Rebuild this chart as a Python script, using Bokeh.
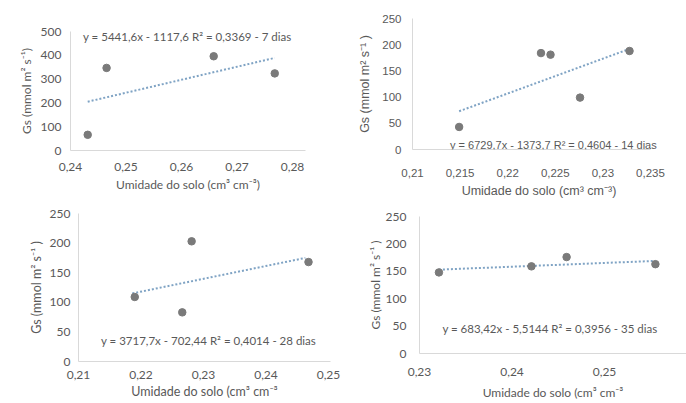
from bokeh.plotting import figure
from bokeh.layouts import column, row
from bokeh.models import FixedTicker, Range1d, Label, CustomJSTickFormatter
from bokeh.embed import file_html
from bokeh.resources import INLINE

# ---------------- data ----------------
# 7 dias
x7 = [0.2431, 0.2465, 0.2658, 0.2768]
y7 = [66, 347, 396, 324]
trend7_x = [0.2431, 0.2768]
trend7_y = [205, 389]
eq7 = "y = 5441,6x - 1117,6  R² = 0,3369 - 7 dias"
xt7 = [0.24, 0.25, 0.26, 0.27, 0.28]
yt7 = [0, 100, 200, 300, 400, 500]

# 14 dias
x14 = [0.2149, 0.2235, 0.2245, 0.2276, 0.2328]
y14 = [43, 184, 181, 99, 188]
trend14_x = [0.2149, 0.2328]
trend14_y = [73, 192]
eq14 = "y = 6729,7x - 1373,7 R² = 0,4604 - 14 dias"
xt14 = [0.21, 0.215, 0.22, 0.225, 0.23, 0.235]
yt14 = [0, 50, 100, 150, 200, 250]

# 28 dias
x28 = [0.2190, 0.2266, 0.2281, 0.2468]
y28 = [109, 83, 203, 168]
trend28_x = [0.2186, 0.2463]
trend28_y = [115, 175]
eq28 = "y = 3717,7x - 702,44 R² = 0,4014 - 28 dias"
xt28 = [0.21, 0.22, 0.23, 0.24, 0.25]
yt28 = [0, 50, 100, 150, 200, 250]

# 35 dias
x35 = [0.2321, 0.2421, 0.2459, 0.2555]
y35 = [148, 159, 176, 163]
trend35_x = [0.2321, 0.2555]
trend35_y = [153, 169]
eq35 = "y = 683,42x - 5,5144 R² = 0,3956 - 35 dias"
xt35 = [0.23, 0.24, 0.25, 0.26]
yt35 = [0, 50, 100, 150, 200, 250]

ylab_a = "Gs (mmol m² s⁻¹)"
ylab_b = "Gs (mmol m² s⁻¹ )"
xlab_a = "Umidade do solo (cm³ cm⁻³)"
xlab_b = "Umidade do solo (cm³ cm⁻³"

TXT = "#595959"
AX = "#d9d9d9"
DOT = "#7a7a7a"
TREND = "#7fa3c4"

fmt = CustomJSTickFormatter(code="return parseFloat(tick.toFixed(4)).toString().replace('.', ',');")


def panel(w, h, xr, xb, yr, xt, yt, borders, font, tick_fs, lab_fs, eq_fs,
          xs, ys, tx, ty, eq, eq_pos, xlab, ylab, xstand, ystand, xlstand, ylstand):
    left, right, top, bottom = borders
    p = figure(width=w, height=h, x_range=Range1d(*xr), y_range=Range1d(*yr),
               output_backend="svg", toolbar_location=None,
               min_border_left=left, min_border_right=right,
               min_border_top=top, min_border_bottom=bottom)
    p.xgrid.visible = False
    p.ygrid.visible = False
    p.outline_line_color = None
    p.background_fill_color = "white"
    p.border_fill_color = "white"
    p.xaxis.ticker = FixedTicker(ticks=xt)
    p.yaxis.ticker = FixedTicker(ticks=yt)
    p.xaxis.formatter = fmt
    p.xaxis.bounds = xb
    for ax in (p.xaxis[0], p.yaxis[0]):
        ax.axis_line_color = AX
        ax.axis_line_width = 1
        ax.major_tick_line_color = None
        ax.minor_tick_line_color = None
        ax.major_tick_out = 0
        ax.major_tick_in = 0
        ax.major_label_text_font = font
        ax.major_label_text_font_size = tick_fs
        ax.major_label_text_color = TXT
        ax.axis_label_text_font = font
        ax.axis_label_text_font_size = lab_fs
        ax.axis_label_text_color = TXT
        ax.axis_label_text_font_style = "normal"
    p.xaxis.major_label_standoff = xstand
    p.yaxis.major_label_standoff = ystand
    p.xaxis.axis_label_standoff = xlstand
    p.yaxis.axis_label_standoff = ylstand
    p.xaxis.axis_label = xlab
    p.yaxis.axis_label = ylab
    p.line(tx, ty, line_color=TREND, line_width=2, line_dash="2 2")
    p.scatter(xs, ys, size=7.5, fill_color=DOT, line_color=DOT)
    p.add_layout(Label(x=eq_pos[0], y=eq_pos[1], text=eq, text_align="center",
                       text_baseline="middle", text_font=font, text_font_size=eq_fs,
                       text_color=TXT))
    return p


p1 = panel(343, 200, (0.24, 0.28234), (0.24, 0.28234), (0, 500), xt7, yt7, (70, 38, 31, 50),
           "Lato", "12px", "12px", "11.5px",
           x7, y7, trend7_x, trend7_y, eq7, (0.2613, 479), xlab_a, ylab_a, 12, 9, 3, 4)
p2 = panel(343, 200, (0.21, 0.23658), (0.21, 0.235), (0, 250), xt14, yt14, (69, 21, 18, 49),
           "Liberation Sans", "11.5px", "12.5px", "11px",
           x14, y14, trend14_x, trend14_y, eq14, (0.2248, 8), xlab_a, ylab_b, 19, 11, 4, 7)
p3 = panel(343, 203, (0.21, 0.25032), (0.21, 0.25032), (0, 250), xt28, yt28, (78, 13, 13, 42),
           "Lato", "12px", "12.5px", "11.5px",
           x28, y28, trend28_x, trend28_y, eq28, (0.2308, 36), xlab_b, ylab_b, 9, 8, 2, 3)
p4 = panel(343, 203, (0.23, 0.25886), (0.23, 0.25886), (0, 250), xt35, yt35, (76, 0, 16, 50),
           "Lato", "12px", "12px", "11.5px",
           x35, y35, trend35_x, trend35_y, eq35, (0.2441, 46), xlab_b, ylab_b, 14, 13, 6, 0)

layout = column(row(column(p1), column(p2)), row(column(p3), column(p4)))
open("out.html", "w").write(file_html(layout, INLINE))
